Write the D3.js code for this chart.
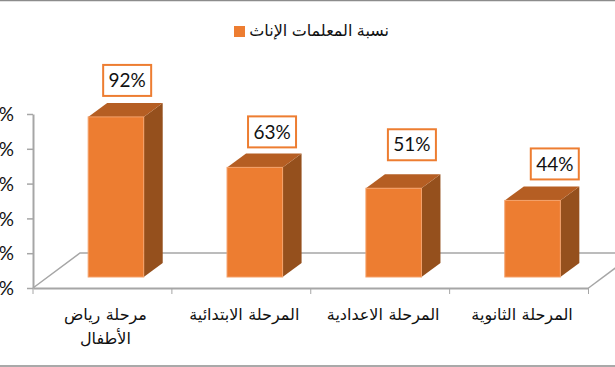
<!DOCTYPE html>
<html lang="ar">
<head>
<meta charset="utf-8">
<script src="https://cdn.jsdelivr.net/npm/d3@7"></script>
<style>
  html, body { margin: 0; padding: 0; background: #fff; overflow: hidden; }
  svg { display: block; }
  .ar { font-family: "Liberation Sans", Arial, "DejaVu Sans", sans-serif; fill: #111; }
  .num { font-family: Lato, "Open Sans", sans-serif; fill: #111; }
</style>
</head>
<body>
<div id="chart"></div>
<script>
const categories = ["مرحلة رياض الأطفال", "المرحلة الابتدائية", "المرحلة الاعدادية", "المرحلة الثانوية"];
const categoryLines = [["مرحلة رياض", "الأطفال"], ["المرحلة الابتدائية"], ["المرحلة الاعدادية"], ["المرحلة الثانوية"]];
const values = [92, 63, 51, 44];
const yTicks = [0, 20, 40, 60, 80, 100];
const seriesName = "نسبة المعلمات الإناث";

const W = 615, H = 367;
const plot = { left: 33, right: 588.5, top: 114, bottom: 288 };
const depth = { x: 47, y: 35 };       // floor depth
const barDepth = { x: 19, y: 14 };    // side of each bar
const barOffset = { x: 13.5, y: 11 }; // bars stand partway into the floor
const axisColor = "#a6a6a6";

// the value boxes were placed by hand in the original
const labelNudgeX = [15, 21, 22, 26];
const labelNudgeY = [-52, -51, -59, -52];

const svg = d3.select("#chart").append("svg")
  .attr("width", W)
  .attr("height", H);

// chart frame, only top and bottom edges are in view
svg.append("line").attr("x1", 0).attr("x2", W).attr("y1", 0.5).attr("y2", 0.5)
  .attr("stroke", "#8c8c8c").attr("stroke-width", 1.5);
svg.append("line").attr("x1", 0).attr("x2", W).attr("y1", 366).attr("y2", 366)
  .attr("stroke", "#8c8c8c").attr("stroke-width", 1.5);

const x = d3.scaleBand()
  .domain(categories)
  .range([plot.left, plot.right])
  .paddingInner(0)
  .paddingOuter(0);

const y = d3.scaleLinear()
  .domain([0, 100])
  .range([plot.bottom, plot.top]);

// Floor
svg.append("path")
  .attr("d", d3.line()([
    [plot.left, plot.bottom],
    [plot.left + depth.x, plot.bottom - depth.y],
    [W + 2, plot.bottom - depth.y]
  ]))
  .attr("fill", "none").attr("stroke", axisColor).attr("stroke-width", 1.5);
svg.append("line")
  .attr("x1", plot.right).attr("y1", plot.bottom)
  .attr("x2", plot.right + depth.x).attr("y2", plot.bottom - depth.y)
  .attr("stroke", axisColor).attr("stroke-width", 1.5);

// Eje Y
const yAxis = svg.append("g")
  .attr("transform", `translate(${plot.left},0)`)
  .call(d3.axisLeft(y).tickValues(yTicks).tickSize(6).tickSizeOuter(0).tickFormat(d => d + "%"));
yAxis.select(".domain").attr("stroke", axisColor).attr("stroke-width", 2);
yAxis.selectAll("line").attr("stroke", axisColor).attr("stroke-width", 1.5);
yAxis.selectAll("text")
  .attr("class", "num")
  .attr("x", -19)
  .attr("dy", "0.35em")
  .style("font-size", "19px");

// Eje X
const xAxis = svg.append("g")
  .attr("transform", `translate(0,${plot.bottom})`)
  .call(d3.axisBottom(x).tickSize(0).tickFormat(""));
xAxis.select(".domain").attr("stroke", axisColor).attr("stroke-width", 2);
xAxis.selectAll(".tick").remove();
xAxis.selectAll("line.sep")
  .data(d3.range(categories.length + 1))
  .enter().append("line")
  .attr("class", "sep")
  .attr("x1", i => plot.left + i * x.step())
  .attr("x2", i => plot.left + i * x.step())
  .attr("y1", 0).attr("y2", 6)
  .attr("stroke", axisColor).attr("stroke-width", 1);

// Bars
const barW = x.bandwidth() * 0.4;
const bars = svg.selectAll("g.bar")
  .data(categories.map((c, i) => ({ c, v: values[i], lines: categoryLines[i] })))
  .enter().append("g")
  .attr("class", "bar");

const bx = d => x(d.c) + (x.bandwidth() - barW) / 2 + barOffset.x;
const by = d => y(d.v) - barOffset.y;
const bb = () => y(0) - barOffset.y;

bars.append("polygon") // side
  .attr("fill", "#95501d")
  .attr("points", d => [
    [bx(d) + barW, by(d)],
    [bx(d) + barW + barDepth.x, by(d) - barDepth.y],
    [bx(d) + barW + barDepth.x, bb() - barDepth.y],
    [bx(d) + barW, bb()]
  ].join(" "));
bars.append("polygon") // top
  .attr("fill", "#b55e23")
  .attr("points", d => [
    [bx(d), by(d)],
    [bx(d) + barDepth.x, by(d) - barDepth.y],
    [bx(d) + barW + barDepth.x, by(d) - barDepth.y],
    [bx(d) + barW, by(d)]
  ].join(" "));
bars.append("rect") // front
  .attr("x", bx)
  .attr("y", by)
  .attr("width", barW)
  .attr("height", d => bb() - by(d))
  .attr("fill", "#ed7d31")
  .attr("stroke", "#f4a16a")
  .attr("stroke-width", 1);

// Value labels
const labelW = 48, labelH = 31;
const labels = svg.selectAll("g.value")
  .data(categories.map((c, i) => ({ c, v: values[i], i })))
  .enter().append("g")
  .attr("class", "value")
  .attr("transform", d => `translate(${bx(d) + labelNudgeX[d.i]},${by(d) + labelNudgeY[d.i]})`);
labels.append("rect")
  .attr("width", labelW).attr("height", labelH)
  .attr("fill", "#fff").attr("stroke", "#ed7d31").attr("stroke-width", 2);
labels.append("text")
  .attr("class", "num")
  .attr("x", labelW / 2).attr("y", labelH / 2)
  .attr("dy", "0.35em")
  .attr("text-anchor", "middle")
  .style("font-size", "19px")
  .text(d => d.v + "%");

// Category labels
bars.append("text")
  .attr("class", "ar")
  .attr("text-anchor", "middle")
  .attr("direction", "rtl")
  .style("font-size", "16px")
  .style("word-spacing", "1px")
  .selectAll("tspan")
  .data(d => d.lines.map(t => ({ t, c: d.c })))
  .enter().append("tspan")
  .attr("x", d => x(d.c) + x.bandwidth() / 2 + 3)
  .attr("y", (d, i) => 320 + i * 24)
  .text(d => d.t);

// Legend
svg.append("rect")
  .attr("x", 234).attr("y", 26).attr("width", 11).attr("height", 11)
  .attr("fill", "#ed7d31");
svg.append("text")
  .attr("class", "ar")
  .attr("x", 389).attr("y", 36)
  .attr("direction", "rtl")
  .attr("text-anchor", "start")
  .style("font-size", "16px")
  .text(seriesName);
</script>
</body>
</html>
